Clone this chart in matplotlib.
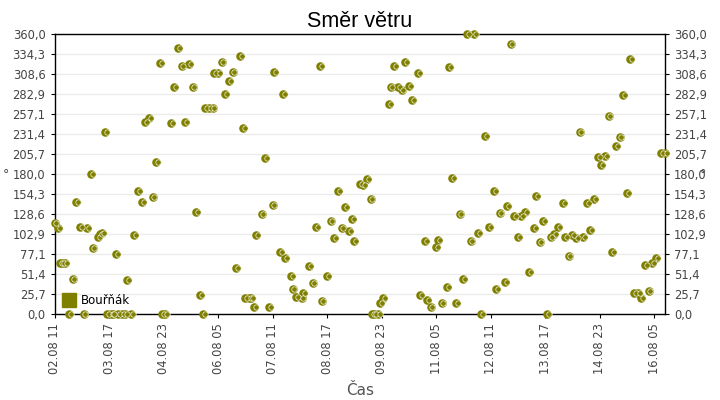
import numpy as np
import matplotlib.pyplot as plt
from matplotlib.lines import Line2D
from matplotlib.transforms import offset_copy

# hours since 02.08 11:00, wind direction in degrees
hours = [0, 2, 3, 4, 6, 8, 10, 12, 14, 16, 18, 20, 21, 24, 25, 26, 28,
         29, 31, 32, 34, 35, 37, 39, 40, 42,
         44, 46, 48, 50, 52, 54, 56, 58, 59, 61, 64, 66, 68, 70, 72, 74, 76,
         78, 80, 82, 83, 85, 87, 88, 90, 92, 94, 96, 98, 100, 102, 104,
         105, 107, 108, 110, 111, 114, 116, 118, 120, 121, 124, 126, 127,
         130, 131, 133, 136, 137, 140, 142, 144, 146, 147, 150, 152, 154,
         156, 158, 160, 162, 164, 165, 168, 170, 172, 174, 175, 176, 178,
         179, 181, 184, 185, 187, 189, 191, 193, 195, 197, 200, 201, 204,
         205, 207, 210, 211, 213, 216, 217, 219, 221, 223, 225, 227, 229,
         231, 233, 235, 237, 239, 242, 243, 245, 248, 249, 251, 253, 255,
         257, 259, 261, 264, 265, 267, 269, 271, 273, 275, 277, 280, 281,
         283, 285, 287, 289, 291, 293, 295, 297, 299, 301, 303, 305, 307,
         309, 311, 313, 315, 317, 319, 321, 323, 325, 327, 329, 331, 334, 336]
direction = [117, 111, 66, 66, 66, 0, 45, 145, 112, 0, 111, 180, 85, 100, 103, 105, 235,
             0, 0, 0, 78, 0, 0, 0, 44, 0,
             102, 159, 145, 247, 253, 151, 196, 323, 0, 0, 246, 293, 342, 320, 248, 322, 293,
             132, 25, 0, 265, 265, 265, 310, 310, 325, 283, 300, 312, 60, 332, 240,
             21, 21, 21, 10, 102, 129, 201, 10, 141, 312, 80, 283, 73,
             50, 33, 23, 21, 27, 62, 40, 113, 320, 17, 50, 120, 98,
             159, 111, 138, 107, 123, 95, 168, 167, 174, 148, 0, 0, 0,
             15, 21, 270, 293, 320, 292, 288, 325, 294, 276, 310, 25, 95,
             18, 10, 87, 96, 15, 35, 318, 175, 15, 129, 45, 360, 95,
             360, 105, 0, 230, 112, 159, 33, 130, 42, 140, 348, 127, 100,
             127, 132, 55, 111, 152, 93, 120, 0, 100, 104, 113, 143, 100,
             75, 102, 98, 235, 100, 143, 108, 148, 202, 192, 204, 255, 80,
             217, 228, 282, 156, 328, 28, 27, 21, 63, 30, 66, 72, 208, 208]

tick_hours = [0, 30, 60, 90, 120, 150, 180, 210, 240, 270, 300, 330]
tick_labels = ["02.08 11", "03.08 17", "04.08 23", "06.08 05", "07.08 11", "08.08 17",
               "09.08 23", "11.08 05", "12.08 11", "13.08 17", "14.08 23", "16.08 05"]
y_ticks = np.linspace(0, 360, 15)
series_name = "Bouřňák"
olive = "#808000"

plt.rcParams['font.family'] = ['DejaVu Sans']

fig = plt.figure(figsize=(7.2, 4), dpi=100)
ax = fig.add_axes([0.0757, 0.214, 0.8479, 0.7])

# olive dot with a small white ring inside, shifted right
ax.scatter(hours, direction, s=38, color=olive, linewidths=0, clip_on=False, zorder=3)
inner = offset_copy(ax.transData, fig=fig, x=1.8, y=0, units='dots')
ax.scatter(hours, direction, s=15, facecolor=olive, edgecolor="white", linewidths=0.45,
           transform=inner, clip_on=False, zorder=4)

ax.set_xlim(0, 336)
ax.set_ylim(0, 360)
ax.set_yticks(y_ticks)
ax.set_yticklabels([f"{v:.1f}".replace(".", ",") for v in y_ticks])
ax.set_xticks(tick_hours)
ax.set_xticklabels(tick_labels, rotation=90)
ax.tick_params(axis='both', labelsize=8.3, labelcolor="#444444", color="black",
               length=3, width=0.8)
ax.tick_params(axis='y', right=True, labelright=True)
ax.grid(axis='y', color="#ebebeb", linewidth=1)
ax.set_axisbelow(True)
for sp in ax.spines.values():
    sp.set_linewidth(1)

ax.set_title("Směr větru", family="Liberation Sans", fontsize=15.5, pad=5)
ax.set_xlabel("Čas", fontsize=11, color="#555555", labelpad=6)
fig.text(0.004, 0.555, "°", fontsize=9, color="#444444")
fig.text(0.972, 0.555, "°", fontsize=9, color="#444444")

handle = Line2D([], [], marker='s', linestyle='none', markersize=10, color=olive)
ax.legend([handle], [series_name], loc='lower left', frameon=False, fontsize=8.5,
          handletextpad=0.4, borderaxespad=0.2, handlelength=1.2)

fig.savefig("out.png", dpi=100)
